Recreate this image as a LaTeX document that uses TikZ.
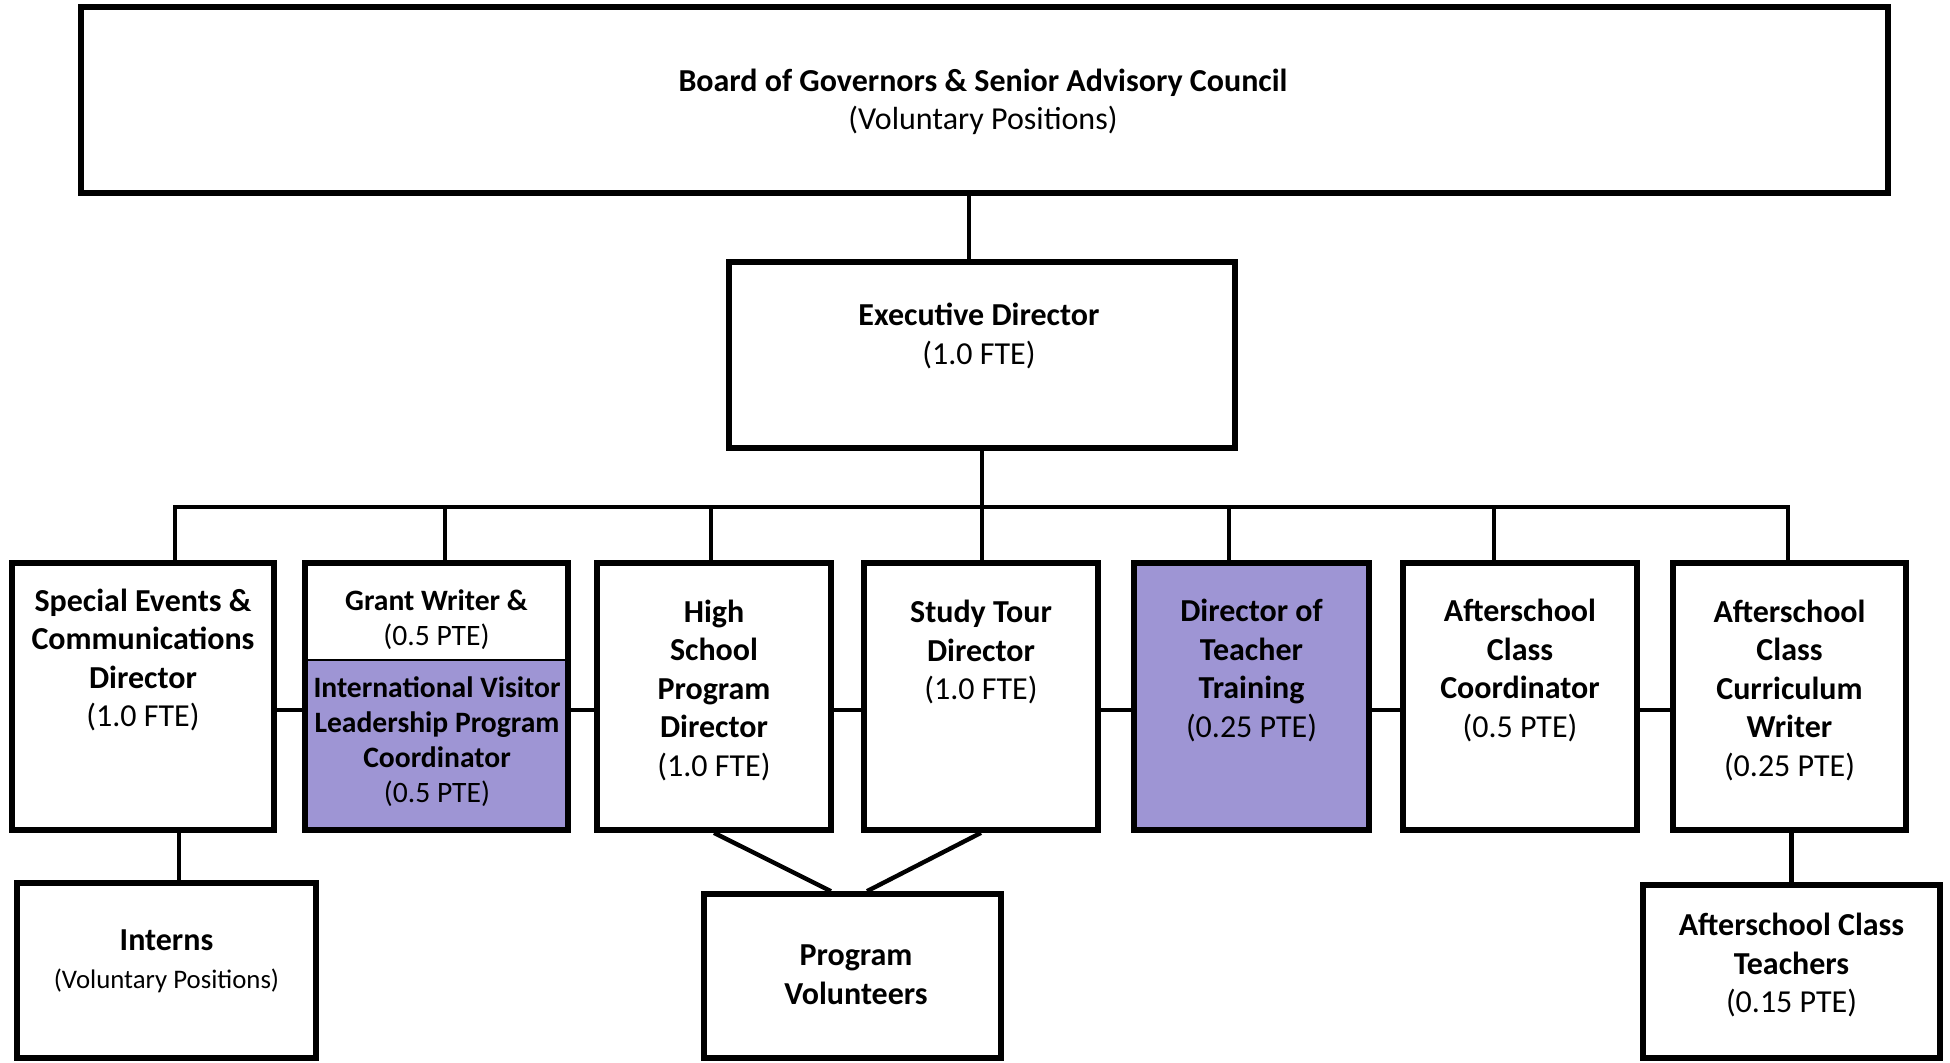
\documentclass[tikz,border=0pt]{standalone}
\usepackage{fontspec}
\setmainfont{Carlito}
\usetikzlibrary{positioning}
\definecolor{lavender}{RGB}{158,149,212}
\begin{document}
\begin{tikzpicture}[x=0.5pt, y=-0.5pt,
    box/.style={draw, line width=2.8pt, inner sep=0pt},
    link/.style={line width=2.2pt},
    txt/.style={align=center, inner sep=0pt, font=\fontsize{16}{19.25}\selectfont},
    smalltxt/.style={align=center, inner sep=0pt, font=\fontsize{14.8}{17.5}\selectfont}]
    \useasboundingbox (0,0) rectangle (1950,1062);
    % top of the chart
    \node[box, minimum width=903.5pt, minimum height=93pt] (board) at (984.5,100) {};
    \node[txt] (boardt) at (983,102) {\textbf{Board of Governors \& Senior Advisory Council}\\(Voluntary Positions)};
    \node[box, minimum width=253pt, minimum height=93pt] (exec) at (982,355) {};
    \node[txt] (exect) at (979,336) {\textbf{Executive Director}\\(1.0 FTE)};
    % staff row
    \fill[lavender] (305,660) rectangle (568,830);
    \node[box, minimum width=131pt, minimum height=133.5pt] (events) at (143,696.5) {};
    \node[box, minimum width=131.5pt, minimum height=133.5pt] (grant) at (436.5,696.5) {};
    \node[box, minimum width=117pt, minimum height=133.5pt] (highschool) at (714,696.5) {};
    \node[box, minimum width=117pt, minimum height=133.5pt] (studytour) at (981,696.5) {};
    \node[box, fill=lavender, minimum width=117.5pt, minimum height=133.5pt] (teacher) at (1251.5,696.5) {};
    \node[box, minimum width=117pt, minimum height=133.5pt] (ascoord) at (1520,696.5) {};
    \node[box, minimum width=116.5pt, minimum height=133.5pt] (ascurric) at (1789.5,696.5) {};
    \coordinate (div) at (0,660);
    \draw[line width=1pt] (grant.west |- div) -- (grant.east |- div);
    \node[txt] (eventst) at (143,660) {\textbf{Special Events \&}\\\textbf{Communications}\\\textbf{Director}\\(1.0 FTE)};
    \node[smalltxt] (grantt) at (436.5,619.5) {\textbf{Grant Writer \&}\\(0.5 PTE)};
    \node[smalltxt] (ivlpt) at (437,741.5) {\textbf{International Visitor}\\\textbf{Leadership Program}\\\textbf{Coordinator}\\(0.5 PTE)};
    \node[txt] (highschoolt) at (714,690) {\textbf{High}\\\textbf{School}\\\textbf{Program}\\\textbf{Director}\\(1.0 FTE)};
    \node[txt] (studytourt) at (981,652) {\textbf{Study Tour}\\\textbf{Director}\\(1.0 FTE)};
    \node[txt] (teachert) at (1251.5,670.5) {\textbf{Director of}\\\textbf{Teacher}\\\textbf{Training}\\(0.25 PTE)};
    \node[txt] (ascoordt) at (1520,670.5) {\textbf{Afterschool}\\\textbf{Class}\\\textbf{Coordinator}\\(0.5 PTE)};
    \node[txt] (ascurrict) at (1789.5,690) {\textbf{Afterschool}\\\textbf{Class}\\\textbf{Curriculum}\\\textbf{Writer}\\(0.25 PTE)};
    % bottom row
    \node[box, minimum width=149.5pt, minimum height=87.5pt] (interns) at (166.5,970.5) {};
    \node[box, minimum width=148.5pt, minimum height=82pt] (volunteers) at (852.5,976) {};
    \node[box, minimum width=148.5pt, minimum height=86.5pt] (asteachers) at (1791.5,971.5) {};
    \node[txt] (internst) at (166.5,961.5) {\textbf{Interns}\\{\fontsize{13.4}{16}\selectfont(Voluntary Positions)}};
    \node[txt] (volunteerst) at (856,974.5) {\textbf{Program}\\\textbf{Volunteers}};
    \node[txt] (asteacherst) at (1791.5,965) {\textbf{Afterschool Class}\\\textbf{Teachers}\\(0.15 PTE)};
    % connectors
    \coordinate (c0) at (969,0);
    \draw[link] (board.south -| c0) -- (exec.north -| c0);
    \coordinate (j1) at (175,507);
    \coordinate (j2) at (445,507);
    \coordinate (j3) at (711,507);
    \coordinate (j5) at (1229,507);
    \coordinate (j6) at (1494,507);
    \coordinate (j7) at (1788,507);
    \draw[link] (j1 |- events.north) -- (j1) -- (j7) -- (j7 |- ascurric.north);
    \draw[link] (exec.south) -- (studytour.north -| exec.south);
    \draw[link] (j2) -- (j2 |- grant.north);
    \draw[link] (j3) -- (j3 |- highschool.north);
    \draw[link] (j5) -- (j5 |- teacher.north);
    \draw[link] (j6) -- (j6 |- ascoord.north);
    \coordinate (lk) at (0,710);
    \draw[link] (events.east |- lk) -- (grant.west |- lk);
    \draw[link] (grant.east |- lk) -- (highschool.west |- lk);
    \draw[link] (highschool.east |- lk) -- (studytour.west |- lk);
    \draw[link] (studytour.east |- lk) -- (teacher.west |- lk);
    \draw[link] (teacher.east |- lk) -- (ascoord.west |- lk);
    \draw[link] (ascoord.east |- lk) -- (ascurric.west |- lk);
    \coordinate (d1) at (179,0);
    \draw[link] (events.south -| d1) -- (interns.north -| d1);
    \draw[link] (highschool.south) -- ([xshift=-10.75pt]volunteers.north);
    \draw[link] (studytour.south) -- ([xshift=7.25pt]volunteers.north);
    \draw[link] (ascurric.south -| asteachers.north) -- (asteachers.north);
\end{tikzpicture}
\end{document}
